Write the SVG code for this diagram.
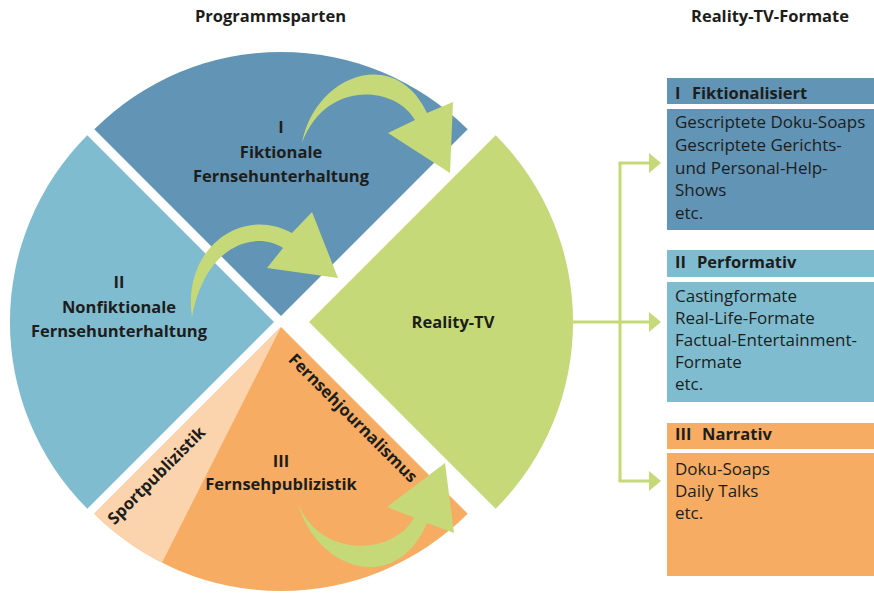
<svg xmlns="http://www.w3.org/2000/svg" width="874" height="593" viewBox="0 0 874 593">
<defs>
<style>
.t{font-family:"Open Sans","Noto Sans","Liberation Sans",sans-serif;fill:#1d1d1b}
.b{font-weight:bold;font-size:16.5px}
.r{font-size:17px}
.m{text-anchor:middle}
.arw{fill:#c5d978}
.con{stroke:#c5d978;stroke-width:3;fill:none}
</style>
<marker id="ah" viewBox="0 0 12 20" refX="0" refY="10" markerWidth="12" markerHeight="20" markerUnits="userSpaceOnUse" orient="auto">
<path d="M0,0 L12,10 L0,20 Z" fill="#c5d978"/>
</marker>
</defs>
<rect width="874" height="593" fill="#ffffff"/>
<text class="t b m" x="270.5" y="22">Programmsparten</text>
<text class="t b m" x="770" y="22">Reality-TV-Formate</text>

<g id="fiktional">
<path d="M281,316 L94.3,129.3 A264,264 0 0 1 467.7,129.3 Z" fill="#6294b5"/>
<text class="t b m" x="281" y="133">I</text>
<text class="t b m" x="281" y="158">Fiktionale</text>
<text class="t b m" x="281" y="182">Fernsehunterhaltung</text>
</g>
<g id="nonfiktional">
<path d="M274,322 L87.3,508.7 A264,264 0 0 1 87.3,135.3 Z" fill="#80bcd0"/>
<text class="t b m" x="119" y="288">II</text>
<text class="t b m" x="119" y="313">Nonfiktionale</text>
<text class="t b m" x="119" y="337">Fernsehunterhaltung</text>
</g>
<g id="publizistik">
<path d="M281,327 L467.7,513.7 A264,264 0 0 1 94.3,513.7 Z" fill="#f6ac62"/>
<path d="M281,327 L162,562.7 A264,264 0 0 1 94.3,513.7 Z" fill="#fbd4ae"/>
<text class="t b m" x="281" y="467">III</text>
<text class="t b m" x="281" y="490">Fernsehpublizistik</text>
<text class="t b m" transform="translate(160.5,479.5) rotate(-45)" x="0" y="0">Sportpublizistik</text>
<text class="t b m" transform="translate(349,422) rotate(45)" x="0" y="0">Fernsehjournalismus</text>
</g>
<g id="reality">
<path d="M309,322 L495.7,135.3 A264,264 0 0 1 495.7,508.7 Z" fill="#c5d978"/>
<text class="t b m" x="453" y="328">Reality-TV</text>
</g>

<g id="curved-arrows">
<path class="arw" d="M302,143 C315,75 395,45 427,113 L453,102 L450,173 L388,133 L415,120 C395,85 325,80 302,143 Z"/>
<path class="arw" d="M192,317 C182,250 240,205 292,233 L312,212 L338,278 L267,268 L283,248 C255,230 205,245 192,317 Z"/>
<path class="arw" d="M298,503 C315,568 395,598 427,523 L454,533 L445,463 L387,507 L414,517.6 C395,555 320,560 298,503 Z"/>
</g>

<g id="connectors">
<path class="con" d="M573,322 H649" marker-end="url(#ah)"/>
<path class="con" d="M620,163 V481"/>
<path class="con" d="M618.5,163 H649" marker-end="url(#ah)"/>
<path class="con" d="M618.5,481 H649" marker-end="url(#ah)"/>
</g>

<g id="box-fiktionalisiert">
<rect x="667" y="78" width="207" height="26" fill="#6294b5"/>
<rect x="667" y="109" width="207" height="121" fill="#6294b5"/>
<text class="t b" x="675" y="99">I<tspan x="692">Fiktionalisiert</tspan></text>
<text class="t r" x="675" y="128">Gescriptete Doku-Soaps</text>
<text class="t r" x="675" y="151">Gescriptete Gerichts-</text>
<text class="t r" x="675" y="173.5">und Personal-Help-</text>
<text class="t r" x="675" y="196">Shows</text>
<text class="t r" x="675" y="218.5">etc.</text>
</g>
<g id="box-performativ">
<rect x="667" y="250" width="207" height="27" fill="#80bcd0"/>
<rect x="667" y="282" width="207" height="120" fill="#80bcd0"/>
<text class="t b" x="675" y="268">II<tspan x="697">Performativ</tspan></text>
<text class="t r" x="675" y="302">Castingformate</text>
<text class="t r" x="675" y="324">Real-Life-Formate</text>
<text class="t r" x="675" y="346">Factual-Entertainment-</text>
<text class="t r" x="675" y="368">Formate</text>
<text class="t r" x="675" y="390">etc.</text>
</g>
<g id="box-narrativ">
<rect x="667" y="423" width="207" height="26" fill="#f6ac62"/>
<rect x="667" y="453" width="207" height="123" fill="#f6ac62"/>
<text class="t b" x="675" y="440">III<tspan x="702">Narrativ</tspan></text>
<text class="t r" x="675" y="475">Doku-Soaps</text>
<text class="t r" x="675" y="497">Daily Talks</text>
<text class="t r" x="675" y="519">etc.</text>
</g>
</svg>
